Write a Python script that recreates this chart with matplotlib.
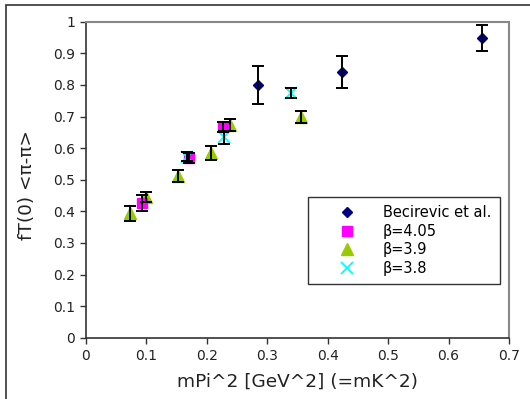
import matplotlib
matplotlib.use("Agg")
import matplotlib.pyplot as plt
from matplotlib.patches import Rectangle
from matplotlib.lines import Line2D

# Data
bec_x = [0.284, 0.423, 0.656]
bec_y = [0.800, 0.840, 0.948]
bec_e = [0.060, 0.050, 0.040]

b405_x = [0.092, 0.170, 0.227]
b405_y = [0.427, 0.568, 0.666]
b405_e = [0.026, 0.015, 0.016]

b39_x = [0.073, 0.100, 0.153, 0.207, 0.238, 0.356]
b39_y = [0.394, 0.446, 0.512, 0.585, 0.673, 0.698]
b39_e = [0.024, 0.016, 0.020, 0.023, 0.018, 0.019]

b38_x = [0.167, 0.228, 0.339]
b38_y = [0.573, 0.634, 0.775]
b38_e = [0.015, 0.020, 0.016]

xticks = [0, 0.1, 0.2, 0.3, 0.4, 0.5, 0.6, 0.7]
xticklabels = ["0", "0.1", "0.2", "0.3", "0.4", "0.5", "0.6", "0.7"]
yticks = [0, 0.1, 0.2, 0.3, 0.4, 0.5, 0.6, 0.7, 0.8, 0.9, 1.0]
yticklabels = ["0", "0.1", "0.2", "0.3", "0.4", "0.5", "0.6", "0.7", "0.8", "0.9", "1"]

W, H = 530, 399
fig = plt.figure(figsize=(W / 100, H / 100), dpi=100)
ax = fig.add_axes([86 / W, 1 - 337.7 / H, (509 - 86) / W, (337.7 - 21.7) / H])

series = [
    (b39_x, b39_y, b39_e, dict(marker="^", color="#99cc00", ms=8, ls="none")),
    (b405_x, b405_y, b405_e, dict(marker="s", color="#ff00ff", ms=7, ls="none")),
    (b38_x, b38_y, b38_e, dict(marker="x", color="#00ffff", ms=9, mew=1.3, ls="none")),
    (bec_x, bec_y, bec_e, dict(marker="D", color="#000080", ms=5.5, ls="none")),
]
for x, y, e, st in series:
    ax.plot(x, y, zorder=3, **st)
    ax.errorbar(x, y, yerr=e, fmt="none", ecolor="black", elinewidth=1.4,
                capsize=4, capthick=1.4, zorder=4)

ax.set_xlim(0, 0.7)
ax.set_ylim(0, 1)
ax.set_xticks(xticks)
ax.set_xticklabels(xticklabels)
ax.set_yticks(yticks)
ax.set_yticklabels(yticklabels)
ax.tick_params(axis="both", labelsize=10, color="#333333", length=4.5, width=1,
               labelcolor="#222222")
for s in ["left", "bottom"]:
    ax.spines[s].set_color("#333333")
    ax.spines[s].set_linewidth(1.2)
for s in ["top", "right"]:
    ax.spines[s].set_color("#888888")
    ax.spines[s].set_linewidth(1.5)

ax.set_xlabel("mPi^2 [GeV^2] (=mK^2)", fontsize=13.3, color="#222222", labelpad=7)
ax.set_ylabel("fT(0) <π-π>", fontsize=13.3, color="#222222")
ax.yaxis.set_label_coords((36 - 86) / 423, 0.483)

handles = [
    Line2D([], [], marker="D", color="#000080", ms=5.5, ls="none"),
    Line2D([], [], marker="s", color="#ff00ff", ms=7, ls="none"),
    Line2D([], [], marker="^", color="#99cc00", ms=8, ls="none"),
    Line2D([], [], marker="x", color="#00ffff", ms=9, mew=1.3, ls="none"),
]
labels = ["Becirevic et al.", "β=4.05", "β=3.9", "β=3.8"]
leg = ax.legend(handles, labels, loc="upper left",
                bbox_to_anchor=((308 - 86) / 423, 1 - (197 - 21.7) / 316),
                fontsize=10.5, frameon=True, fancybox=False, edgecolor="black",
                borderaxespad=0, handletextpad=0.3, labelspacing=0.25,
                borderpad=0.55, handlelength=4.3)
leg.get_frame().set_linewidth(1.0)

# outer frame (top and left visible)
fig.patches.append(Rectangle((6 / W, -0.1), 1.2, 1 - 5 / H + 0.1,
                             transform=fig.transFigure, fill=False,
                             edgecolor="#333333", linewidth=1.2))

fig.savefig("out.png", dpi=100)
